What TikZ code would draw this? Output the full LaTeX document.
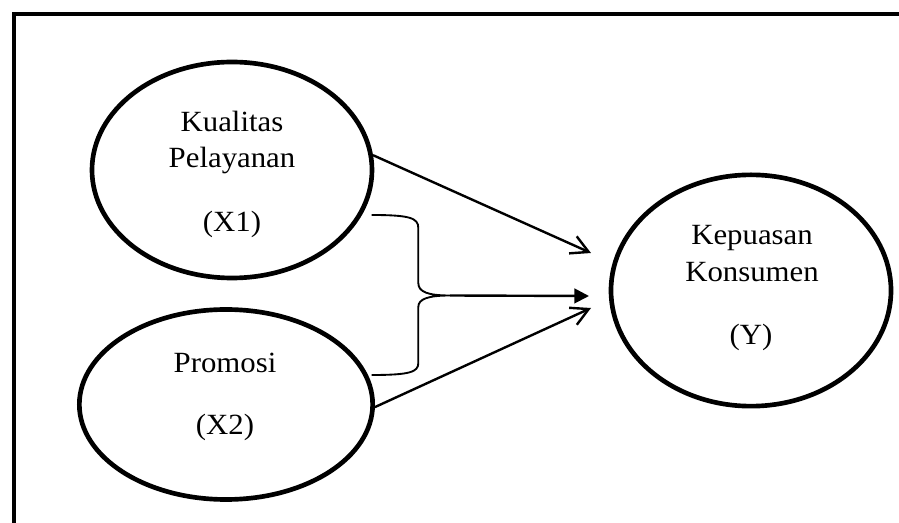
\documentclass[tikz,border=0pt]{standalone}
\usepackage{fontspec}
\setmainfont{Liberation Serif}[FakeStretch=1.05]
\usetikzlibrary{arrows.meta,shapes.geometric}
\begin{document}
\begin{tikzpicture}[x=0.75pt,y=-0.75pt,
  ell/.style={draw,ellipse,line width=3.5pt,inner sep=0pt},
  lbl/.style={anchor=base,inner sep=0pt,font=\fontsize{22pt}{26pt}\selectfont},
  conn/.style={line width=1.8pt},
  vtip/.style={-{Straight Barb[length=13pt,width=14pt,line width=1.8pt]}},
  ftip/.style={-{Triangle[length=11pt,width=11pt]}},
  bracestyle/.style={line width=1.4pt}
]
\useasboundingbox (0,0) rectangle (899,523);
% frame
\draw[line width=3.4pt] (14,560) -- (14,14) -- (940,14);
% ellipses
\node[ell,minimum width=210pt,minimum height=162pt] (e1) at (232,170) {};
\node[ell,minimum width=220pt,minimum height=142.5pt] (e2) at (226,404.5) {};
\node[ell,minimum width=210pt,minimum height=173.5pt] (e3) at (751,290.5) {};
% labels
\node[lbl] (l1a) at (232,132) {Kualitas};
\node[lbl] (l1b) at (232,168) {Pelayanan};
\node[lbl] (l1c) at (232,232) {(X1)};
\node[lbl] (l2a) at (225,373) {Promosi};
\node[lbl] (l2b) at (225,435) {(X2)};
\node[lbl] (l3a) at (752,245) {Kepuasan};
\node[lbl] (l3b) at (752,282) {Konsumen};
\node[lbl] (l3c) at (751,345) {(Y)};
% arrow ends
\coordinate (t1) at (591,253);
\coordinate (t2) at (589,296);
\coordinate (t3) at (591,308);
% brace
\coordinate (b1) at (371.7,215);
\coordinate (b2) at (450,295.5);
\coordinate (b3) at (371.7,375);
\draw[bracestyle] (b1) .. controls (410,215) and (418.3,218) .. (418.3,228)
  -- (418.3,283) .. controls (418.3,292) and (428,295.5) .. (b2)
  .. controls (428,295.5) and (418.3,299) .. (418.3,307)
  -- (418.3,363) .. controls (418.3,372) and (410,375) .. (b3);
% connectors
\draw[conn,vtip] (e1.6) -- (t1);
\draw[conn,ftip] (b2) -- (t2);
\draw[conn,vtip] (e2.-1) -- (t3);
\end{tikzpicture}
\end{document}
